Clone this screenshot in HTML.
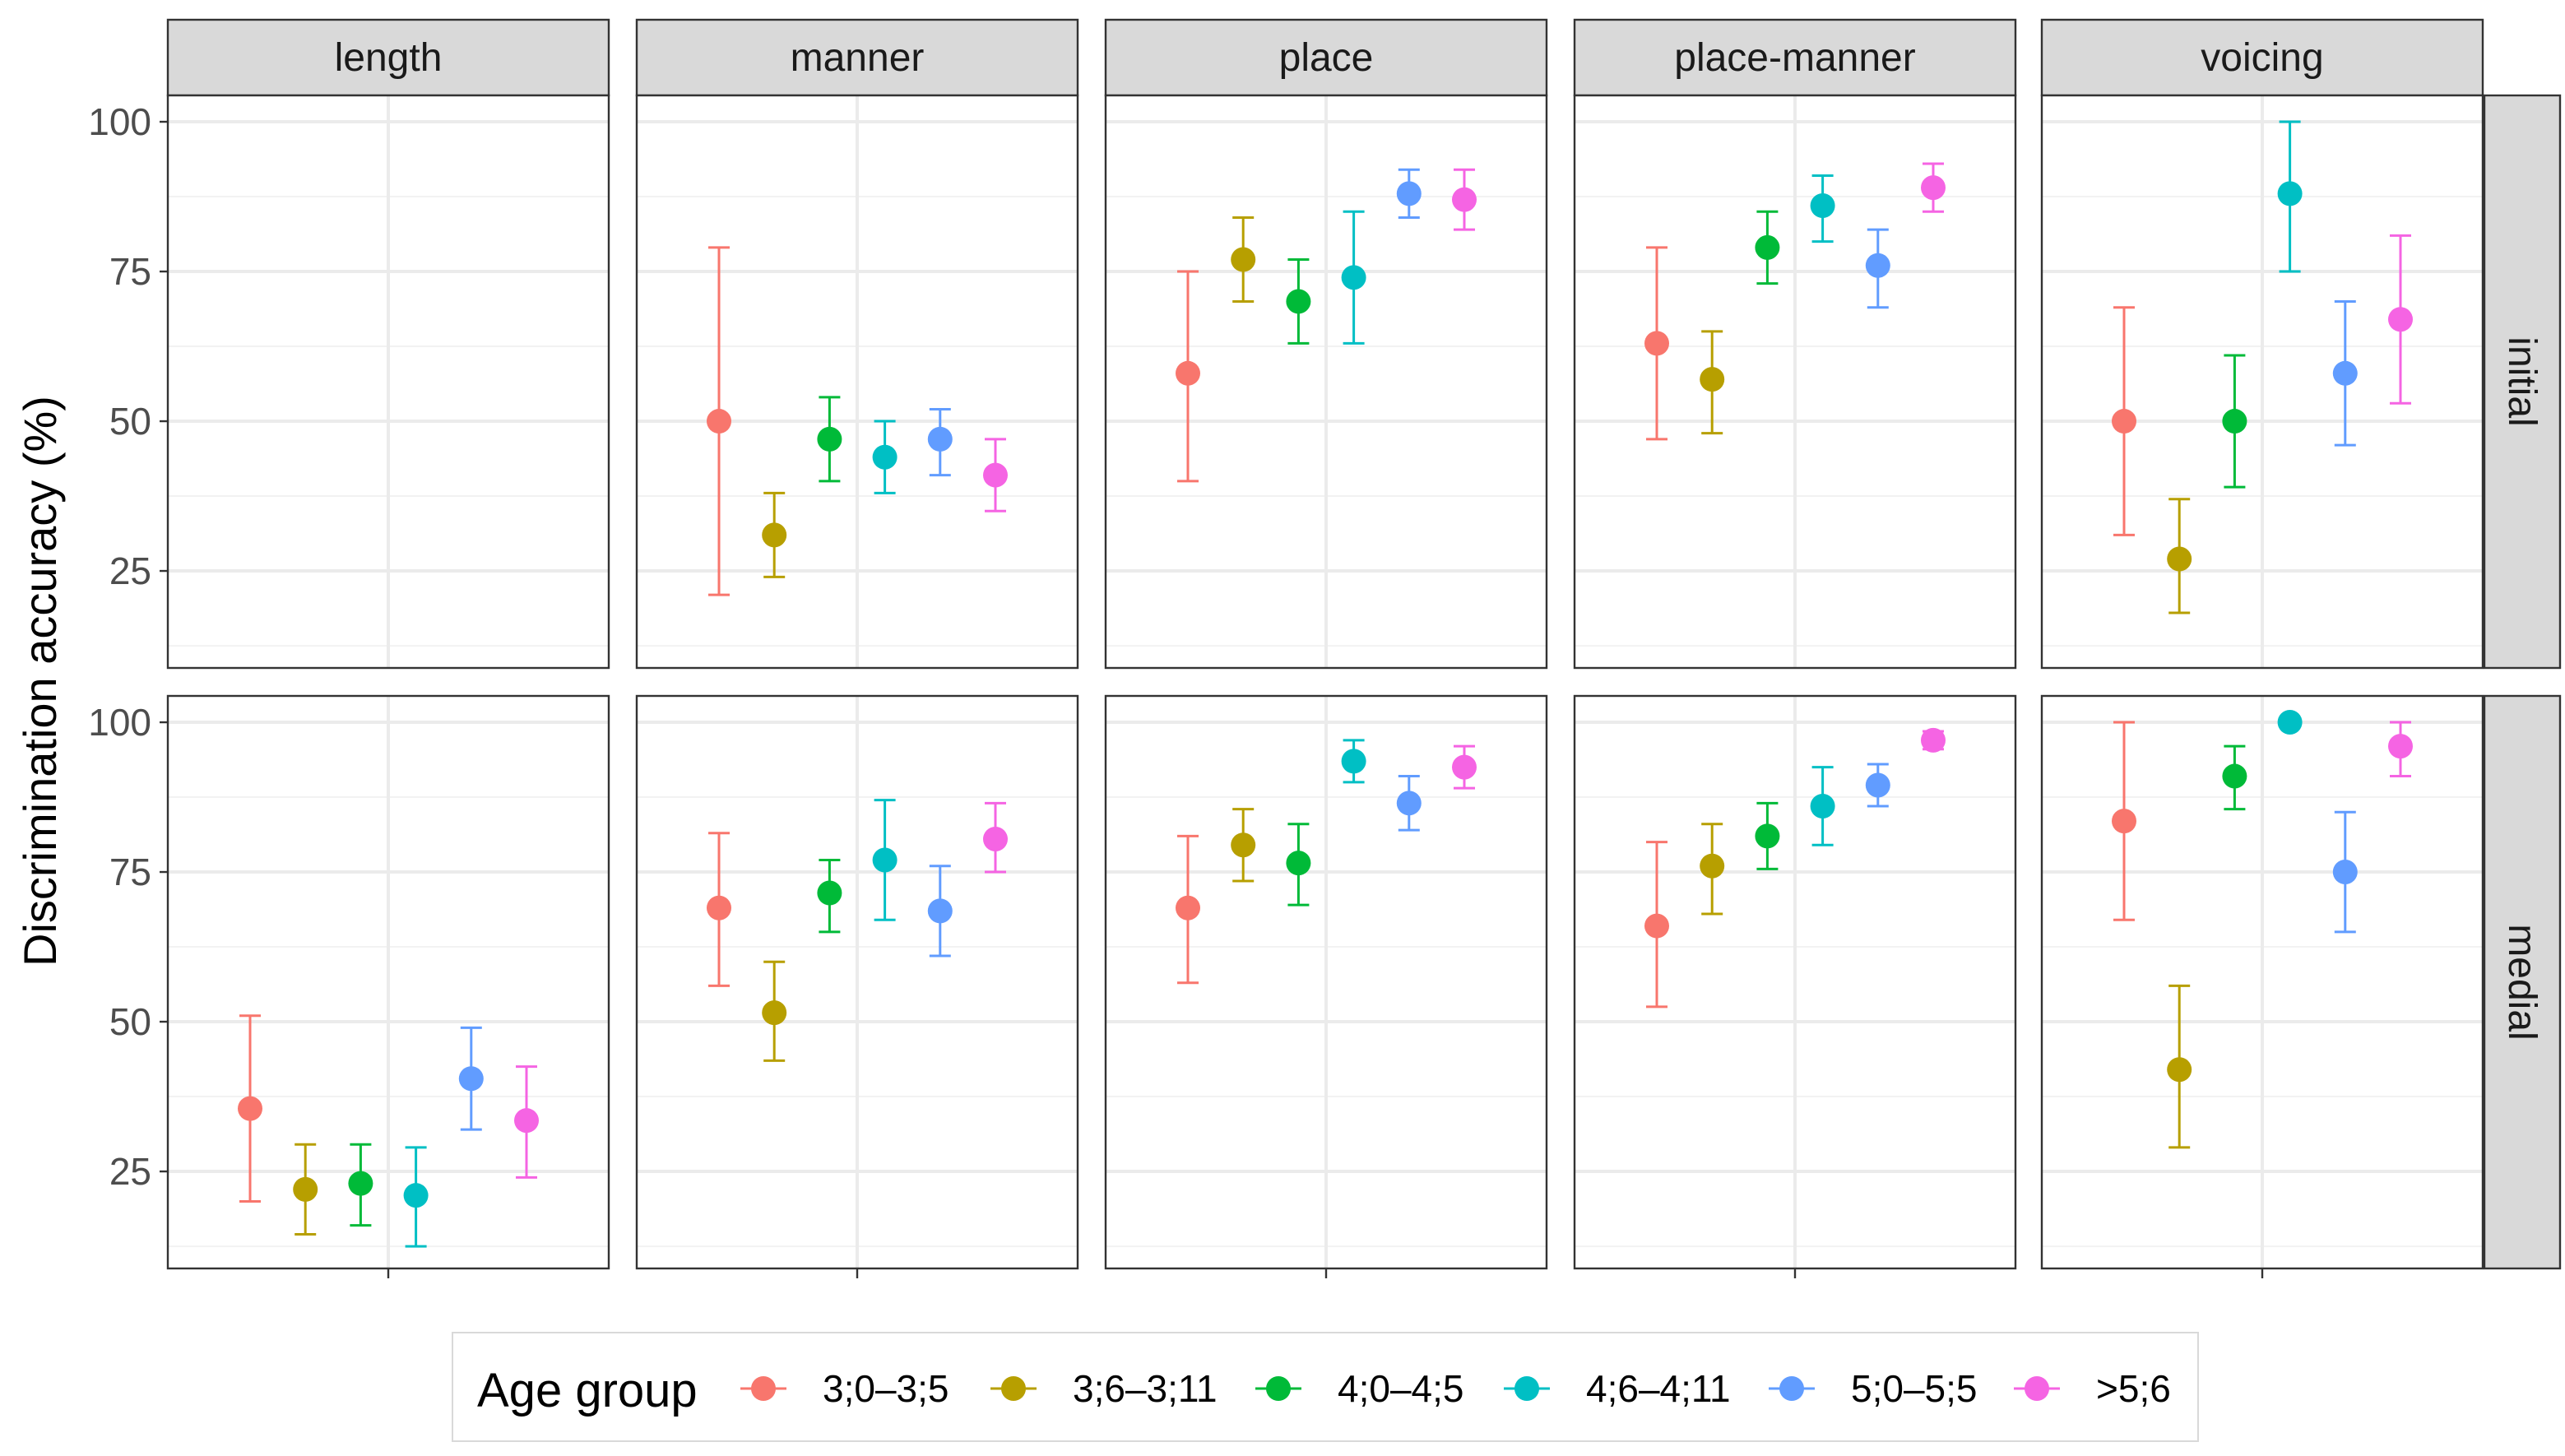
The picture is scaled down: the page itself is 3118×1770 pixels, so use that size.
<!DOCTYPE html>
<html><head><meta charset="utf-8"><style>html,body{margin:0;padding:0;background:#fff}svg{display:block}text{font-family:"Liberation Sans",sans-serif}</style></head>
<body>
<svg id="chart" width="3118" height="1770" viewBox="0 0 1559 885" xmlns="http://www.w3.org/2000/svg"></svg>
<script>
const facets = ["length","manner","place","place-manner","voicing"];
const rowsLabels = ["initial","medial"];
const groups = ["3;0–3;5","3;6–3;11","4;0–4;5","4;6–4;11","5;0–5;5",">5;6"];
const colors = ["#F8766D","#B79F00","#00BA38","#00BFC4","#619CFF","#F564E3"];
const yTicks = [25,50,75,100];
const yMinor = [12.5,37.5,62.5,87.5];
// initial row: [mean, low, high] per group, null = missing
const initialLength = [null,null,null,null,null,null];
const initialManner = [[50,21,79],[31,24,38],[47,40,54],[44,38,50],[47,41,52],[41,35,47]];
const initialPlace = [[58,40,75],[77,70,84],[70,63,77],[74,63,85],[88,84,92],[87,82,92]];
const initialPlaceManner = [[63,47,79],[57,48,65],[79,73,85],[86,80,91],[76,69,82],[89,85,93]];
const initialVoicing = [[50,31,69],[27,18,37],[50,39,61],[88,75,100],[58,46,70],[67,53,81]];
const medialLength = [[35.5,20,51],[22,14.5,29.5],[23,16,29.5],[21,12.5,29],[40.5,32,49],[33.5,24,42.5]];
const medialManner = [[69,56,81.5],[51.5,43.5,60],[71.5,65,77],[77,67,87],[68.5,61,76],[80.5,75,86.5]];
const medialPlace = [[69,56.5,81],[79.5,73.5,85.5],[76.5,69.5,83],[93.5,90,97],[86.5,82,91],[92.5,89,96]];
const medialPlaceManner = [[66,52.5,80],[76,68,83],[81,75.5,86.5],[86,79.5,92.5],[89.5,86,93],[97,95.5,98.5]];
const medialVoicing = [[83.5,67,100],[42,29,56],[91,85.5,96],[100,100,100],[75,65,85],[96,91,100]];
const data = [[initialLength,initialManner,initialPlace,initialPlaceManner,initialVoicing],
              [medialLength,medialManner,medialPlace,medialPlaceManner,medialVoicing]];

const svg = document.getElementById('chart');
const NS = "http://www.w3.org/2000/svg";
function mk(tag, attrs, parent){const e=document.createElementNS(NS,tag);for(const k in attrs)e.setAttribute(k,attrs[k]);(parent||svg).appendChild(e);return e;}
const colX = [102,387,672,957,1241], panelW = 268;
const rowY = [58,423], panelH = 348;
const yMinV = 8.8, yMaxV = 104.4;
function yScale(v,r){return rowY[r]+panelH-(v-yMinV)/(yMaxV-yMinV)*panelH;}
function xScale(c,i){return colX[c]+panelW/2+(i-2.5)*33.6;}

facets.forEach((f,c)=>{
  const g=mk('g',{});
  
  
  mk('rect',{x:colX[c],y:12,width:panelW,height:46,fill:'#D9D9D9',stroke:'#333','stroke-width':1.2},g);
  const t=mk('text',{x:colX[c]+panelW/2,y:43,'text-anchor':'middle','font-size':24,fill:'#1A1A1A'},g);t.textContent=f;
});
rowsLabels.forEach((r,ri)=>{
  const g=mk('g',{});
  
  
  mk('rect',{x:1510,y:rowY[ri],width:46,height:panelH,fill:'#D9D9D9',stroke:'#333','stroke-width':1.2},g);
  const cy=rowY[ri]+panelH/2;
  const t=mk('text',{x:1533,y:cy,'text-anchor':'middle','font-size':24,fill:'#1A1A1A',transform:`rotate(90 1533 ${cy})`,dy:8},g);t.textContent=r;
});

for(let r=0;r<2;r++){
  for(let c=0;c<5;c++){
    const g=mk('g',{});
    
    
    const x0=colX[c], y0=rowY[r];
    mk('rect',{x:x0,y:y0,width:panelW,height:panelH,fill:'#fff'},g);
    yMinor.forEach(v=>mk('line',{x1:x0,x2:x0+panelW,y1:yScale(v,r),y2:yScale(v,r),stroke:'#F2F2F2','stroke-width':1},g));
    yTicks.forEach(v=>mk('line',{x1:x0,x2:x0+panelW,y1:yScale(v,r),y2:yScale(v,r),stroke:'#EBEBEB','stroke-width':2},g));
    mk('line',{x1:x0+panelW/2,x2:x0+panelW/2,y1:y0,y2:y0+panelH,stroke:'#EBEBEB','stroke-width':2},g);
    data[r][c].forEach((d,i)=>{
      if(!d)return;
      const x=xScale(c,i), col=colors[i];
      const eb=mk('g',{},g);
      
      
      const yl=yScale(d[1],r), yh=yScale(d[2],r);
      mk('line',{x1:x,x2:x,y1:yl,y2:yh,stroke:col,'stroke-width':1.5},eb);
      mk('line',{x1:x-6.5,x2:x+6.5,y1:yl,y2:yl,stroke:col,'stroke-width':1.5},eb);
      mk('line',{x1:x-6.5,x2:x+6.5,y1:yh,y2:yh,stroke:col,'stroke-width':1.5},eb);
      const p=mk('circle',{cx:x,cy:yScale(d[0],r),r:7.5,fill:col},g);
      
      
    });
    mk('rect',{x:x0,y:y0,width:panelW,height:panelH,fill:'none',stroke:'#333','stroke-width':1.2},g);
    if(r===1) mk('line',{x1:x0+panelW/2,x2:x0+panelW/2,y1:y0+panelH,y2:y0+panelH+6,stroke:'#333','stroke-width':1.2},g);
    if(c===0){
      yTicks.forEach(v=>{
        mk('line',{x1:x0-5,x2:x0,y1:yScale(v,r),y2:yScale(v,r),stroke:'#333','stroke-width':1.2},g);
        const t=mk('text',{x:x0-10,y:yScale(v,r)+8,'text-anchor':'end','font-size':23,fill:'#4D4D4D'},g);
        t.textContent=v;
        
        
      });
    }
  }
}
const yt=mk('text',{x:34,y:414,'text-anchor':'middle','font-size':28,fill:'#000',transform:'rotate(-90 34 414)'});
yt.textContent='Discrimination accuracy (%)';



const lg=mk('g',{});


mk('rect',{x:275,y:810,width:1061,height:66,fill:'#fff',stroke:'#D9D9D9','stroke-width':1},lg);
const lt=mk('text',{x:290,y:855,'font-size':29,fill:'#000'},lg);lt.textContent='Age group';
const keyX=[464,616,777,928,1089,1238];
groups.forEach((gname,i)=>{
  const e=mk('g',{},lg);
  
  
  mk('line',{x1:keyX[i]-14,x2:keyX[i]+14,y1:844,y2:844,stroke:colors[i],'stroke-width':1.5},e);
  mk('circle',{cx:keyX[i],cy:844,r:7.5,fill:colors[i]},e);
  const t=mk('text',{x:keyX[i]+36,y:852,'font-size':23,fill:'#000'},e);t.textContent=gname;
});
</script>
</body></html>
